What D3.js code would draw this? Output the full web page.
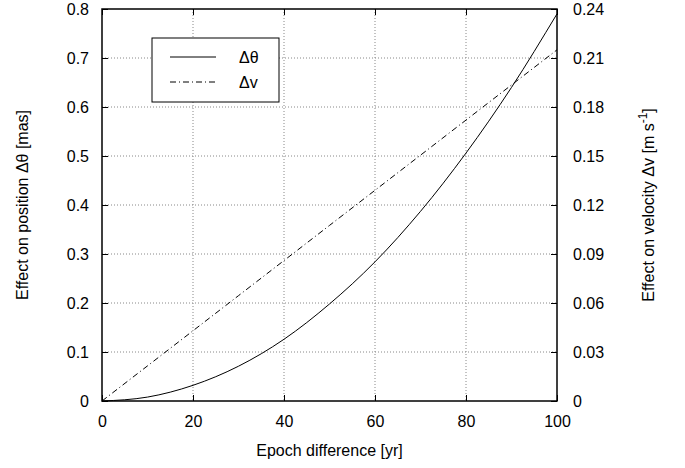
<!DOCTYPE html>
<html>
<head>
<meta charset="utf-8">
<script src="https://cdn.jsdelivr.net/npm/d3@7"></script>
<style>
body { margin: 0; background: #fff; }
text { font-family: "Liberation Sans", Arial, sans-serif; }
</style>
</head>
<body>
<script>
let W = 685, H = 468;
let margin = {left: 102, right: 128, top: 9, bottom: 67};
let w = W - margin.left - margin.right;
let h = H - margin.top - margin.bottom;

// epoch difference [yr]
let epochs = [0, 10, 20, 30, 40, 50, 60, 70, 80, 90, 100];
// effect on position [mas]
let dTheta = [0, 0.008, 0.032, 0.071, 0.126, 0.198, 0.284, 0.387, 0.506, 0.64, 0.79];
// effect on velocity [m/s]
let dV = [0, 0.0215, 0.043, 0.0645, 0.086, 0.1075, 0.129, 0.1505, 0.172, 0.1935, 0.215];

let xTicks = [0, 20, 40, 60, 80, 100];
let yTicks = [0, 0.1, 0.2, 0.3, 0.4, 0.5, 0.6, 0.7, 0.8];
let y2Ticks = [0, 0.03, 0.06, 0.09, 0.12, 0.15, 0.18, 0.21, 0.24];

let svg = d3.select("body").append("svg").attr("width", W).attr("height", H);
let g = svg.append("g").attr("transform", "translate(" + margin.left + "," + margin.top + ")");

let x = d3.scaleLinear().domain([0, 100]).range([0, w]);
let y = d3.scaleLinear().domain([0, 0.8]).range([h, 0]);
let y2 = d3.scaleLinear().domain([0, 0.24]).range([h, 0]);

// grid
g.append("g").selectAll("line").data(xTicks.slice(1, -1)).join("line")
  .attr("x1", d => x(d)).attr("x2", d => x(d)).attr("y1", 0).attr("y2", h)
  .attr("stroke", "#888").attr("stroke-width", 1).attr("stroke-dasharray", "1,2");
g.append("g").selectAll("line").data(yTicks.slice(1, -1)).join("line")
  .attr("x1", 0).attr("x2", w).attr("y1", d => y(d)).attr("y2", d => y(d))
  .attr("stroke", "#888").attr("stroke-width", 1).attr("stroke-dasharray", "1,2");

let font = "16px";

let xAxis = g.append("g").attr("transform", "translate(0," + h + ")")
  .call(d3.axisBottom(x).tickValues(xTicks).tickFormat(d3.format("d")).tickSizeInner(-6).tickSizeOuter(0).tickPadding(15));
let yAxis = g.append("g")
  .call(d3.axisLeft(y).tickValues(yTicks).tickFormat(d => d === 0 ? "0" : d3.format(".1f")(d)).tickSizeInner(-6).tickSizeOuter(0).tickPadding(13));
let yAxis2 = g.append("g").attr("transform", "translate(" + w + ",0)")
  .call(d3.axisRight(y2).tickValues(y2Ticks).tickFormat(d => d === 0 ? "0" : d3.format(".2f")(d)).tickSizeInner(-6).tickSizeOuter(0).tickPadding(16));
let topAxis = g.append("g")
  .call(d3.axisTop(x).tickValues(xTicks).tickFormat("").tickSizeInner(-6).tickSizeOuter(0));

[xAxis, yAxis, yAxis2, topAxis].forEach(a => {
  a.select(".domain").remove();
  a.selectAll("line").attr("stroke", "#000");
  a.selectAll("text").attr("font-size", font).attr("fill", "#000");
});

// frame
g.append("rect").attr("x", 0).attr("y", 0).attr("width", w).attr("height", h)
  .attr("fill", "none").attr("stroke", "#000").attr("stroke-width", 1.5);

let lineTheta = d3.line().curve(d3.curveMonotoneX).x((d, i) => x(epochs[i])).y(d => y(d));
let lineV = d3.line().x((d, i) => x(epochs[i])).y(d => y2(d));

g.append("path").attr("d", lineTheta(dTheta)).attr("fill", "none")
  .attr("stroke", "#000").attr("stroke-width", 1);
g.append("path").attr("d", lineV(dV)).attr("fill", "none")
  .attr("stroke", "#000").attr("stroke-width", 1).attr("stroke-dasharray", "6,3,1,3");

// legend
let lg = svg.append("g").attr("transform", "translate(152,38)");
lg.append("rect").attr("width", 127).attr("height", 64).attr("fill", "#fff")
  .attr("stroke", "#000").attr("stroke-width", 1);
lg.append("line").attr("x1", 18).attr("x2", 64).attr("y1", 19).attr("y2", 19)
  .attr("stroke", "#000").attr("stroke-width", 1);
lg.append("line").attr("x1", 18).attr("x2", 64).attr("y1", 44).attr("y2", 44)
  .attr("stroke", "#000").attr("stroke-width", 1).attr("stroke-dasharray", "6,3,1,3");
lg.append("text").attr("x", 87).attr("y", 25).attr("font-size", font).text("Δθ");
lg.append("text").attr("x", 87).attr("y", 50).attr("font-size", font).text("Δv");

// axis titles
svg.append("text").attr("x", margin.left + w / 2).attr("y", 456).attr("text-anchor", "middle")
  .attr("font-size", font).text("Epoch difference [yr]");
svg.append("text").attr("transform", "translate(28," + (margin.top + h / 2) + ") rotate(-90)")
  .attr("text-anchor", "middle").attr("font-size", font).text("Effect on position Δθ [mas]");
let t2 = svg.append("text").attr("transform", "translate(654," + (margin.top + h / 2) + ") rotate(-90)")
  .attr("text-anchor", "middle").attr("font-size", font);
t2.append("tspan").text("Effect on velocity Δv [m s");
t2.append("tspan").attr("dy", -7).attr("font-size", "12px").text("-1");
t2.append("tspan").attr("dy", 7).text("]");
</script>
</body>
</html>
